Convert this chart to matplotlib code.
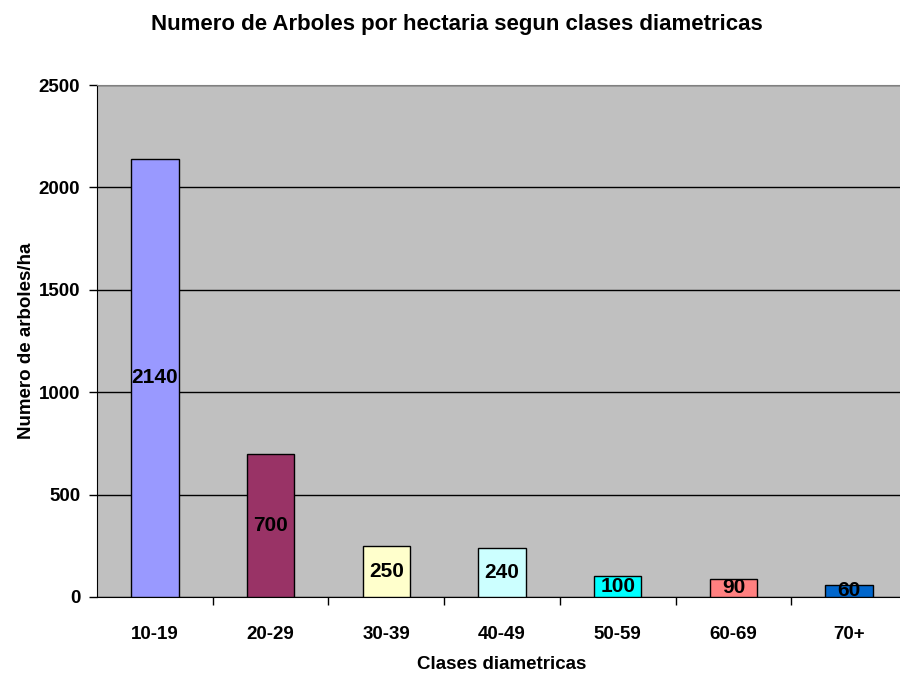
import matplotlib
matplotlib.use("Agg")
import matplotlib.pyplot as plt

# Datos
clases = ["10-19", "20-29", "30-39", "40-49", "50-59", "60-69", "70+"]
arboles = [2140, 700, 250, 240, 100, 90, 60]
colores = ["#9999FF", "#993366", "#FFFFCC", "#CCFFFF", "#00FFFF", "#FF8080", "#0066CC"]

plt.rcParams['font.family'] = ['Liberation Sans', 'DejaVu Sans']
plt.rcParams['font.weight'] = 'bold'

fig = plt.figure(figsize=(9, 6.79), dpi=100)
ax = fig.add_axes([0.1078, 0.1208, 0.9, 0.754])
ax.set_facecolor("#C0C0C0")

x = list(range(len(clases)))
bars = ax.bar(x, arboles, width=0.41, color=colores, edgecolor="black", linewidth=1, zorder=3)

# Etiquetas dentro de las barras
for b, v in zip(bars, arboles):
    ax.text(b.get_x() + b.get_width() / 2, v / 2, str(v), ha="center", va="center",
            fontsize=15, fontweight="bold", zorder=4)

ax.set_xlim(-0.5, len(clases) - 0.5)
ax.set_ylim(0, 2500)
ax.set_yticks(range(0, 2501, 500))
ax.yaxis.grid(True, color="black", linewidth=1, zorder=0)
ax.set_axisbelow(True)

ax.set_xticks(x)
ax.set_xticklabels(clases, fontsize=13.5, fontweight="bold")
ax.set_xticks([i + 0.5 for i in x], minor=True)
ax.tick_params(axis="x", which="major", length=0, pad=21)
ax.tick_params(axis="x", which="minor", length=6, width=1, direction="out")
ax.tick_params(axis="y", length=6, width=1, direction="out", labelsize=13.5, pad=6)
for lbl in ax.get_yticklabels():
    lbl.set_fontweight("bold")

ax.spines["top"].set_color("#808080")
ax.spines["right"].set_visible(False)
ax.spines["left"].set_color("black")
ax.spines["bottom"].set_color("black")

ax.set_xlabel("Clases diametricas", fontsize=13.5, fontweight="bold", labelpad=9)
ax.set_ylabel("Numero de arboles/ha", fontsize=13.5, fontweight="bold", labelpad=3)
fig.suptitle("Numero de Arboles por hectaria segun clases diametricas", x=0.508, y=0.98,
             fontsize=16, fontweight="bold")

fig.savefig("out.png", dpi=100)
